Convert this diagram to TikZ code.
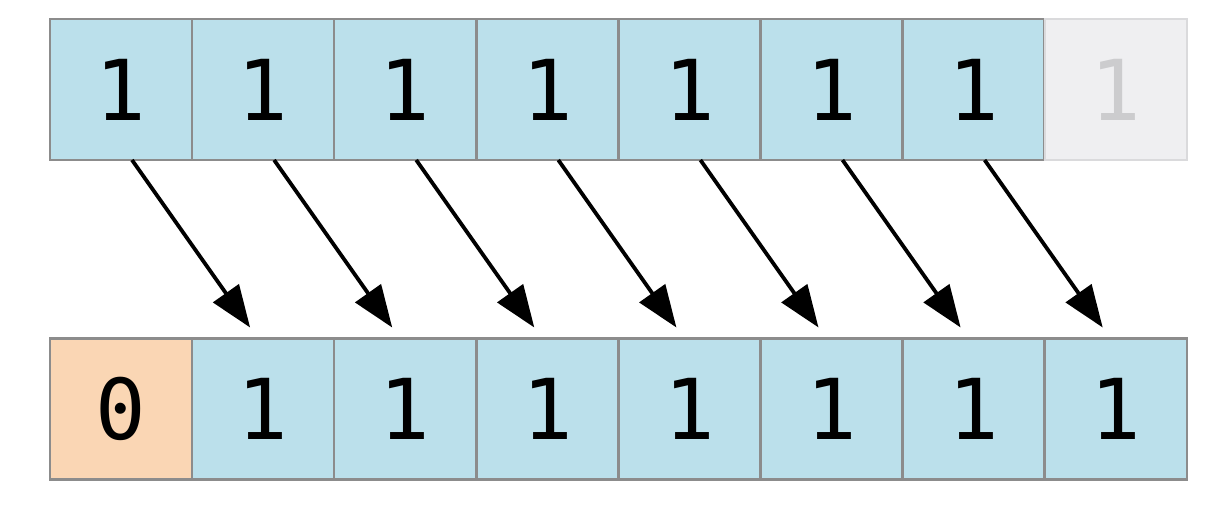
\documentclass[tikz,border=0pt]{standalone}
\usepackage{fontspec}
\newfontfamily\digitfont{DejaVu Sans Mono}
\usetikzlibrary{arrows.meta}
\definecolor{cellblue}{RGB}{187,224,235}
\definecolor{cellorange}{RGB}{250,214,180}
\definecolor{cellgray}{RGB}{239,239,241}
\definecolor{bordergray}{RGB}{140,140,140}
\definecolor{lightborder}{RGB}{218,218,220}
\definecolor{fadedtext}{RGB}{204,204,206}
\tikzset{
  cell/.style={draw=bordergray, line width=1.2pt, minimum width=71pt, minimum height=70.5pt,
    inner sep=0pt, outer sep=0pt, font=\digitfont\fontsize{42}{42}\selectfont, text=black},
  bluecell/.style={cell, fill=cellblue},
  orangecell/.style={cell, fill=cellorange},
  fadedcell/.style={cell, draw=lightborder, fill=cellgray, text=fadedtext},
  shiftarrow/.style={line width=1.9pt, -{Triangle[length=21pt,width=15.5pt]}}
}
\begin{document}
\begin{tikzpicture}[x=0.5pt,y=-0.5pt]
\useasboundingbox (0,0) rectangle (1210,524);
% top row
\foreach \i in {0,...,6} {
  \node[bluecell] (t\i) at ({121+142.1*\i},89.5) {1};
}
\node[fadedcell] (t7) at ({121+142.1*7},89.5) {1};
% bottom row
\node[orangecell] (b0) at (121,409) {0};
\foreach \i in {1,...,7} {
  \node[bluecell] (b\i) at ({121+142.1*\i},409) {1};
}
% arrows
\foreach \i [evaluate=\i as \j using int(\i+1)] in {0,...,6} {
  \draw[shiftarrow] ([xshift=5.5pt]t\i.south) -- ([xshift=-6.5pt,yshift=5.5pt]b\j.north);
}
\end{tikzpicture}
\end{document}
